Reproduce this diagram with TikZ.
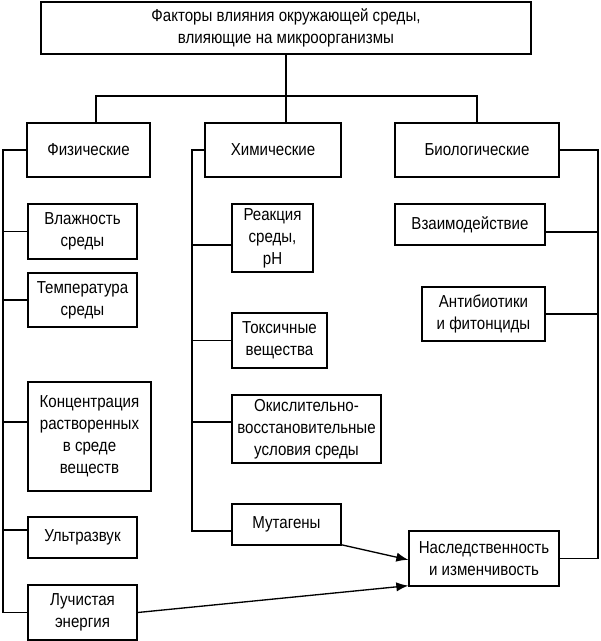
\documentclass[tikz,border=0pt]{standalone}
\usepackage{fontspec}
\setmainfont{Liberation Sans}[FakeStretch=0.87]
\usetikzlibrary{arrows.meta}
\begin{document}
\begin{tikzpicture}[x=0.75pt,y=-0.75pt,
  box/.style={draw,line width=1pt,align=center,inner sep=0pt,
    font=\fontsize{13pt}{16.5pt}\selectfont},
  conn/.style={line width=1pt},
  arr/.style={line width=1pt,-{Latex[length=9pt,width=7pt]}}]
\useasboundingbox (0,0) rectangle (600,641);
% nodes
\node[box,minimum width=367.5pt,minimum height=39pt] (top) at (286,28)
  {Факторы влияния окружающей среды,\\влияющие на микроорганизмы};
\node[box,minimum width=92.25pt,minimum height=40.5pt] (fiz) at (88.5,150) {Физические};
\node[box,minimum width=102pt,minimum height=40.5pt] (him) at (273,150) {Химические};
\node[box,minimum width=123pt,minimum height=40.5pt] (bio) at (477,150) {Биологические};
\node[box,minimum width=81.75pt,minimum height=41.25pt] (vlaz) at (82.5,231.5) {Влажность\\среды};
\node[box,minimum width=81.75pt,minimum height=40.5pt] (temp) at (82.5,300) {Температура\\среды};
\node[box,minimum width=92.25pt,minimum height=81.75pt] (konc) at (89.5,436.5) {Концентрация\\растворенных\\в среде\\веществ};
\node[box,minimum width=81.75pt,minimum height=30.75pt] (ultr) at (82.5,537.5) {Ультразвук};
\node[box,minimum width=81.75pt,minimum height=41.25pt] (luch) at (82.5,612.5) {Лучистая\\энергия};
\node[box,minimum width=60.75pt,minimum height=51pt] (reak) at (272.5,238) {Реакция\\среды,\\рН};
\node[box,minimum width=71.25pt,minimum height=41.25pt] (toks) at (279.5,340.5) {Токсичные\\вещества};
\node[box,minimum width=111.75pt,minimum height=51pt] (okis) at (306.5,429) {Окислительно-\\восстановительные\\условия среды};
\node[box,minimum width=81.75pt,minimum height=30.75pt] (mut) at (286.5,524.5) {Мутагены};
\node[box,minimum width=112.5pt,minimum height=30.75pt] (vzai) at (470,224.5) {Взаимодействие};
\node[box,minimum width=92.25pt,minimum height=40.5pt] (anti) at (483.5,314) {Антибиотики\\и фитонциды};
\node[box,minimum width=112.5pt,minimum height=41.25pt] (nasl) at (484,558.5) {Наследственность\\и изменчивость};
% coordinates
\coordinate (busL) at (96,96);
\coordinate (busR) at (477,96);
\coordinate (L) at (3,0);
\coordinate (C) at (192,0);
\coordinate (R) at (598,0);
% top tree
\draw[conn] (top.south) -- (top.south |- him.north);
\draw[conn] (busL |- fiz.north) -- (busL) -- (busR) -- (busR |- bio.north);
% left rail
\draw[conn] (fiz.west) -- (fiz.west -| L) -- (luch.west -| L) -- (luch.west);
\draw[conn] (vlaz.west) -- (vlaz.west -| L);
\draw[conn] (temp.west) -- (temp.west -| L);
\draw[conn] ([yshift=10.9pt]konc.west) -- ([yshift=10.9pt]konc.west -| L);
\draw[conn] ([yshift=5.6pt]ultr.west) -- ([yshift=5.6pt]ultr.west -| L);
% chemical rail
\draw[conn] (him.west) -- (him.west -| C) -- ([yshift=-4.9pt]mut.west -| C) -- ([yshift=-4.9pt]mut.west);
\draw[conn] ([yshift=-5.25pt]reak.west) -- ([yshift=-5.25pt]reak.west -| C);
\draw[conn] (toks.west) -- (toks.west -| C);
\draw[conn] ([yshift=5.25pt]okis.west) -- ([yshift=5.25pt]okis.west -| C);
% right rail
\draw[conn] (bio.east) -- (bio.east -| R) -- (nasl.east -| R) -- (nasl.east);
\draw[conn] ([yshift=-5.6pt]vzai.east) -- ([yshift=-5.6pt]vzai.east -| R);
\draw[conn] (anti.east) -- (anti.east -| R);
% arrows
\draw[arr] ([xshift=-0.5pt,yshift=0.75pt]mut.south east) -- ([yshift=-1pt]nasl.west);
\draw[arr] (luch.east) -- ([yshift=0.75pt]nasl.south west);
\end{tikzpicture}
\end{document}
